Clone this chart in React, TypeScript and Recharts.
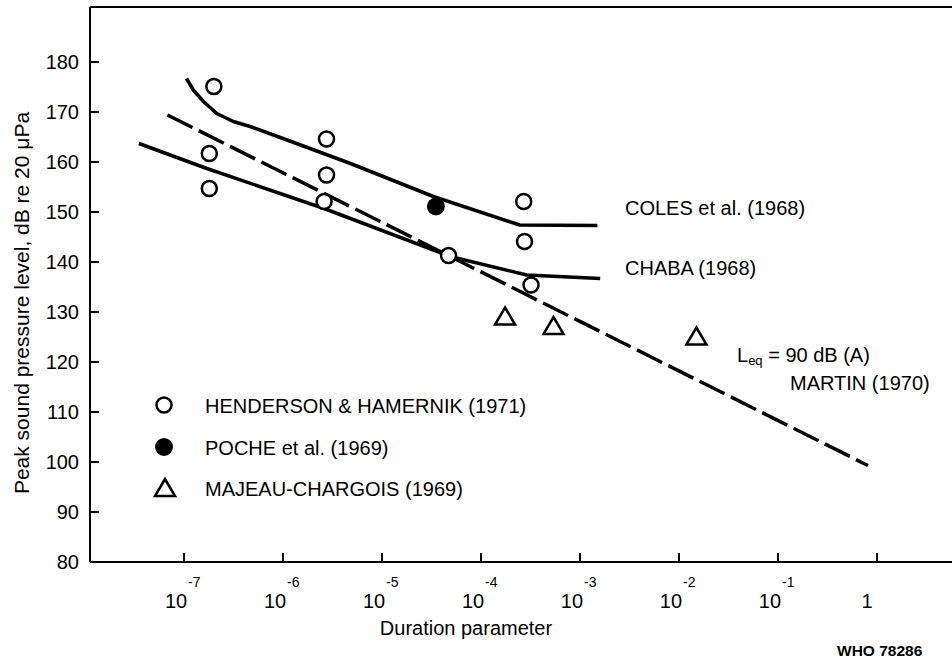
import { ComposedChart, Line, Scatter, XAxis, YAxis, ReferenceLine } from "recharts";

const FONT = '"Liberation Sans", Arial, sans-serif';

// axis ticks
const durationTicks = [1e-7, 1e-6, 1e-5, 1e-4, 1e-3, 1e-2, 1e-1, 1];
const durationExponents = ["-7", "-6", "-5", "-4", "-3", "-2", "-1", ""];
const levelTicks = [80, 90, 100, 110, 120, 130, 140, 150, 160, 170, 180];

// COLES et al. (1968) curve
const colesDuration = [1.06e-7, 1.24e-7, 1.57e-7, 2.14e-7, 3.15e-7, 4.65e-7, 1.0e-6, 4.8e-6, 3.3e-5, 2.45e-4, 1.5e-3];
const colesLevel = [176.7, 174.4, 172.1, 169.7, 168.1, 167.1, 164.7, 159.7, 153.1, 147.4, 147.3];

// CHABA (1968) curve
const chabaDuration = [3.5e-8, 1.7e-7, 2.6e-6, 4.9e-5, 2.9e-4, 1.6e-3];
const chabaLevel = [163.7, 158.7, 150.7, 141.1, 137.4, 136.7];

// MARTIN (1970), Leq = 90 dB(A)
const martinDuration = [6.8e-8, 0.81];
const martinLevel = [169.4, 99.3];

// HENDERSON & HAMERNIK (1971)
const hendersonDuration = [2.0e-7, 1.8e-7, 1.8e-7, 2.75e-6, 2.75e-6, 2.6e-6, 4.7e-5, 2.7e-4, 2.75e-4, 3.2e-4];
const hendersonLevel = [175.1, 161.7, 154.7, 164.6, 157.4, 152.1, 141.3, 152.1, 144.1, 135.4];

// POCHE et al. (1969)
const pocheDuration = [3.5e-5];
const pocheLevel = [151.1];

// MAJEAU-CHARGOIS (1969)
const majeauDuration = [1.75e-4, 5.4e-4, 1.5e-2];
const majeauLevel = [129.1, 127.2, 125.1];

const legendItems = [
  { name: "HENDERSON & HAMERNIK (1971)", symbol: "open" },
  { name: "POCHE et al. (1969)", symbol: "filled" },
  { name: "MAJEAU-CHARGOIS (1969)", symbol: "triangle" },
];

const toPoints = (xs: number[], ys: number[]) => xs.map((x, i) => ({ x, y: ys[i] }));

const X_MIN = Math.pow(10, -7.95);
const X_MAX = Math.pow(10, 0.758);
const Y_MIN = 80;
const Y_MAX = 191;

function OpenCircle(props: any) {
  return <circle cx={props.cx} cy={props.cy} r={7.5} fill="#fff" stroke="#000" strokeWidth={2.5} />;
}

function FilledCircle(props: any) {
  return <circle cx={props.cx} cy={props.cy} r={9} fill="#000" />;
}

function Triangle(props: any) {
  const { cx, cy } = props;
  return (
    <path
      d={`M${cx},${cy - 9} L${cx + 10},${cy + 8} L${cx - 10},${cy + 8} Z`}
      fill="none"
      stroke="#000"
      strokeWidth={2.5}
    />
  );
}

function DurationTick(props: any) {
  const { x, y, index } = props;
  const exp = durationExponents[index];
  return (
    <g>
      <line x1={x} y1={y} x2={x} y2={y - 9} stroke="#000" strokeWidth={2} />
      {exp ? (
        <>
          <text x={x - 8} y={y + 46} textAnchor="middle" fontSize={20} fontFamily={FONT} fill="#000">
            10
          </text>
          <text x={x + 4} y={y + 25} textAnchor="start" fontSize={14} fontFamily={FONT} fill="#000">
            {exp}
          </text>
        </>
      ) : (
        <text x={x - 10} y={y + 46} textAnchor="middle" fontSize={20} fontFamily={FONT} fill="#000">
          1
        </text>
      )}
    </g>
  );
}

function LevelTick(props: any) {
  const { x, y, payload } = props;
  return (
    <g>
      <line x1={x} y1={y} x2={x + 9} y2={y} stroke="#000" strokeWidth={2} />
      <text x={x - 11} y={y + 7} textAnchor="end" fontSize={20} fontFamily={FONT} fill="#000">
        {payload.value}
      </text>
    </g>
  );
}

export default function App() {
  return (
    <div style={{ position: "absolute", left: 0, top: 0, width: 952, height: 659, background: "#fff" }}>
      <ComposedChart width={952} height={659} margin={{ top: 7, right: 0, bottom: 0, left: 0 }}>
        <XAxis
          dataKey="x"
          type="number"
          scale="log"
          domain={[X_MIN, X_MAX]}
          allowDataOverflow
          ticks={durationTicks}
          interval={0}
          height={97}
          tickSize={0}
          tickMargin={0}
          axisLine={{ stroke: "#000", strokeWidth: 2 }}
          tickLine={false}
          tick={DurationTick}
        />
        <YAxis
          dataKey="y"
          type="number"
          domain={[Y_MIN, Y_MAX]}
          allowDataOverflow
          ticks={levelTicks}
          interval={0}
          width={90}
          tickSize={0}
          tickMargin={0}
          axisLine={{ stroke: "#000", strokeWidth: 2 }}
          tickLine={false}
          tick={LevelTick}
        />
        <ReferenceLine y={Y_MAX} stroke="#000" strokeWidth={2} />
        {/* circles sit under the curves, as in the original figure */}
        <Scatter
          data={toPoints(hendersonDuration, hendersonLevel)}
          shape={OpenCircle}
          isAnimationActive={false}
        />
        <Line
          data={toPoints(martinDuration, martinLevel)}
          dataKey="y"
          type="linear"
          stroke="#000"
          strokeWidth={3.5}
          strokeDasharray="28 7"
          dot={false}
          isAnimationActive={false}
        />
        <Line
          data={toPoints(colesDuration, colesLevel)}
          dataKey="y"
          type="linear"
          stroke="#000"
          strokeWidth={3.5}
          strokeLinejoin="round"
          dot={false}
          isAnimationActive={false}
        />
        <Line
          data={toPoints(chabaDuration, chabaLevel)}
          dataKey="y"
          type="linear"
          stroke="#000"
          strokeWidth={3.5}
          strokeLinejoin="round"
          dot={false}
          isAnimationActive={false}
        />
        <Scatter data={toPoints(pocheDuration, pocheLevel)} shape={FilledCircle} isAnimationActive={false} />
        <Scatter data={toPoints(majeauDuration, majeauLevel)} shape={Triangle} isAnimationActive={false} />
      </ComposedChart>
      <svg
        width={952}
        height={659}
        style={{ position: "absolute", left: 0, top: 0, pointerEvents: "none" }}
        fontFamily={FONT}
        fill="#000"
      >
        <text transform="translate(29,303) rotate(-90)" textAnchor="middle" fontSize={21}>
          Peak sound pressure level, dB re 20 μPa
        </text>
        <text x={466} y={635} textAnchor="middle" fontSize={20}>
          Duration parameter
        </text>
        <text x={837} y={656} fontSize={15.5} fontWeight="bold">
          WHO 78286
        </text>
        <text x={625} y={215} fontSize={20}>COLES et al. (1968)</text>
        <text x={625} y={275} fontSize={20}>CHABA (1968)</text>
        <text x={737} y={362} fontSize={20}>
          L<tspan fontSize={13} dy={3}>eq</tspan>
          <tspan dy={-3}> = 90 dB (A)</tspan>
        </text>
        <text x={790} y={390} fontSize={20}>MARTIN (1970)</text>
        {legendItems.map((item, i) => {
          const cy = [405, 447, 488][i];
          return (
            <g key={item.name}>
              {item.symbol === "open" && <OpenCircle cx={164} cy={cy} />}
              {item.symbol === "filled" && <FilledCircle cx={164} cy={cy} />}
              {item.symbol === "triangle" && <Triangle cx={165} cy={cy} />}
              <text x={205} y={cy + 8} fontSize={20}>
                {item.name}
              </text>
            </g>
          );
        })}
      </svg>
    </div>
  );
}
